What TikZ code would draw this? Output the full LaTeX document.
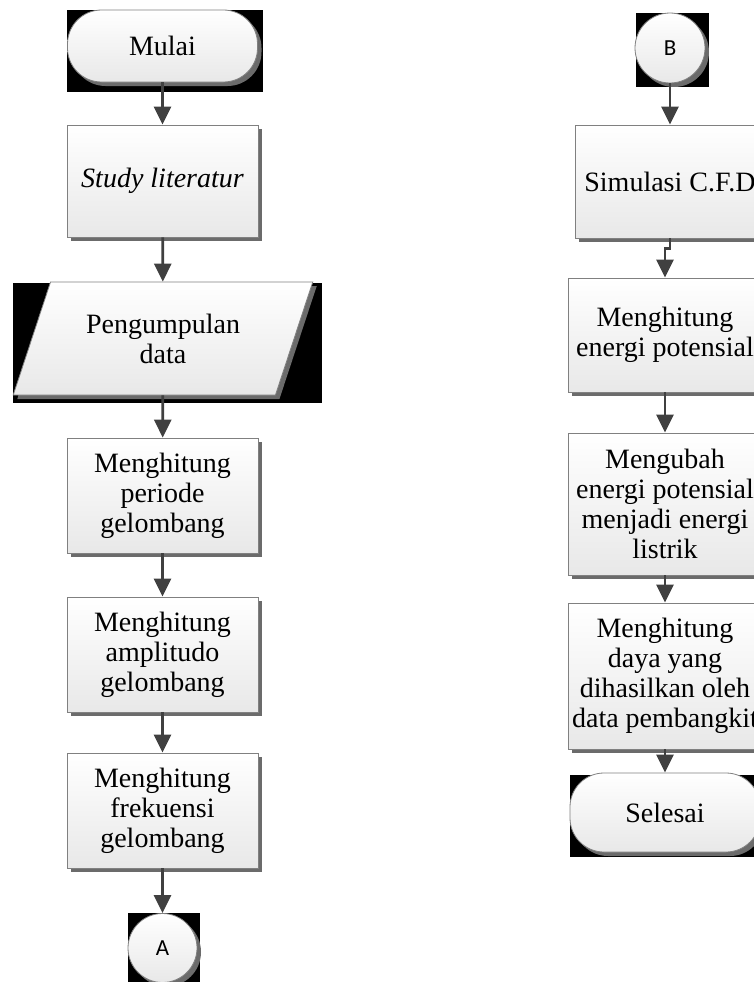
\documentclass[tikz,border=0pt]{standalone}
\usepackage{fontspec}
\setmainfont{Liberation Serif}
\newfontfamily\circfont{Carlito}
\usetikzlibrary{arrows.meta,shapes.geometric,shadows}
\begin{document}
\begin{tikzpicture}[x=1pt,y=-1pt,
  every node/.style={font=\fontsize{28}{30}\selectfont, align=center, inner sep=2pt},
  base/.style={draw=black!50, line width=0.8pt, top color=white, bottom color=black!9,
    general shadow={fill=black!58, shadow xshift=4pt, shadow yshift=-4pt}},
  procbox/.style={base, rectangle},
  termbox/.style={base, rectangle, rounded corners=34pt},
  iobox/.style={base, trapezium, trapezium left angle=64, trapezium right angle=116, trapezium stretches=true},
  conn/.style={base, circle, font=\circfont\fontsize{23}{25}\selectfont},
  blackbg/.style={fill=black},
  arr/.style={draw=black!75, line width=2.8pt, -{Triangle[length=18pt,width=17pt]}}
]
\useasboundingbox (0,0) rectangle (754,982);
\clip (0,0) rectangle (754,982);
% black backgrounds
\fill[blackbg] (67,10) rectangle (263,92);
\fill[blackbg] (13,283) rectangle (322,403);
\fill[blackbg] (128,913) rectangle (200,990);
\fill[blackbg] (636,13) rectangle (709,87);
\fill[blackbg] (570,775) rectangle (770,857);
% left column
\node[termbox, minimum width=190, minimum height=72] (mulai) at (162.5,46) {Mulai};
\node[procbox, minimum width=191, minimum height=112] (study) at (162.5,181) {\itshape Study literatur};
\node[iobox, minimum width=300, minimum height=113] (data) at (163,338.5) {Pengumpulan\\data};
\node[procbox, minimum width=191, minimum height=115] (periode) at (162.5,495.5) {Menghitung\\periode\\gelombang};
\node[procbox, minimum width=191, minimum height=115] (ampl) at (162.5,654.5) {Menghitung\\amplitudo\\gelombang};
\node[procbox, minimum width=191, minimum height=115] (frek) at (162.5,810.5) {Menghitung\\frekuensi\\gelombang};
\node[conn, minimum size=69] (A) at (162.5,948) {A};
% right column
\node[conn, minimum size=70] (B) at (670,48) {B};
\node[procbox, minimum width=190, minimum height=113] (sim) at (670,181.5) {Simulasi C.F.D};
\node[procbox, minimum width=194, minimum height=114] (energi) at (665,335) {Menghitung\\energi potensial};
\node[procbox, minimum width=194, minimum height=142] (ubah) at (665,504) {Mengubah\\energi potensial\\menjadi energi\\listrik};
\node[procbox, minimum width=194, minimum height=146] (daya) at (665,676) {Menghitung\\daya yang\\dihasilkan oleh\\data pembangkit};
\node[termbox, minimum width=190, minimum height=79] (selesai) at (665,812.5) {Selesai};
% connectors
\draw[arr] (mulai) -- (study);
\draw[arr] (study) -- (data);
\draw[arr] (data) -- (periode);
\draw[arr] (periode) -- (ampl);
\draw[arr] (ampl) -- (frek);
\draw[arr] (frek) -- (A);
\draw[arr] (B) -- (sim);
\draw[arr] (sim.south) -- ++(0,10) -| (energi.north);
\draw[arr] (energi) -- (ubah);
\draw[arr] (ubah) -- (daya);
\draw[arr] (daya) -- (selesai);
\end{tikzpicture}
\end{document}
